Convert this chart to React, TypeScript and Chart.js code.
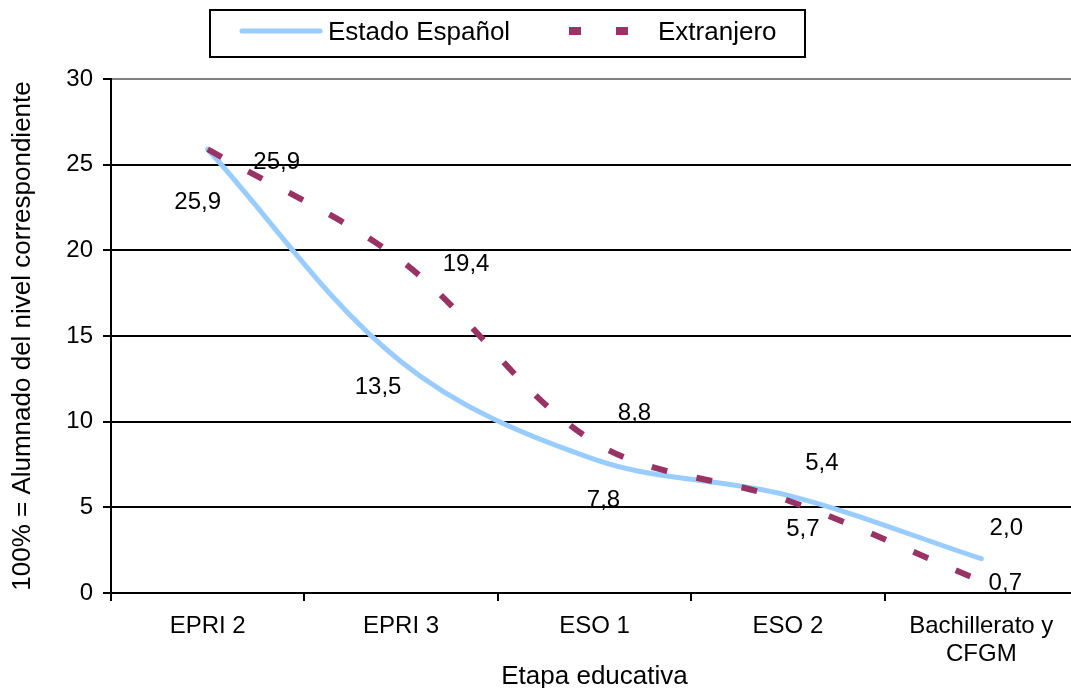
import React, { useEffect, useRef } from "react";
import { Chart, registerables } from "chart.js";

Chart.register(...registerables);

// ---- data ----
const categories: (string | string[])[] = ["EPRI 2", "EPRI 3", "ESO 1", "ESO 2", ["Bachillerato y", "CFGM"]];
const estadoEspanol = [25.9, 13.5, 7.8, 5.7, 2.0];
const extranjero = [25.9, 19.4, 8.8, 5.4, 0.7];
const seriesNames = ["Estado Español", "Extranjero"];
const yMin = 0;
const yMax = 30;
const yStep = 5;
const xTitle = "Etapa educativa";
const yTitle = "100% = Alumnado del nivel correspondiente";

// ---- styles ----
const FONT = "'Liberation Sans', Arial, sans-serif";
const BLUE = "#99CCFF";
const MAGENTA = "#993366";
// label offsets (px) from each point, per series
const labelOffsets: number[][][] = [
  [[-10, 53], [-23, 26], [9, 41], [15, 34], [25, -30]],
  [[69, 13], [65, 4], [40, -29], [34, -37], [24, 2]],
];

const fmt = (v: number) => v.toFixed(1).replace(".", ",");

const dataLabelPlugin = {
  id: "dataLabels",
  afterDatasetsDraw(chart: any) {
    const ctx = chart.ctx;
    ctx.save();
    ctx.font = `24px ${FONT}`;
    ctx.fillStyle = "#000";
    ctx.textAlign = "center";
    ctx.textBaseline = "middle";
    chart.data.datasets.forEach((ds: any, di: number) => {
      const meta = chart.getDatasetMeta(di);
      meta.data.forEach((pt: any, i: number) => {
        const off = labelOffsets[di][i];
        ctx.fillText(fmt(ds.data[i]), pt.x + off[0], pt.y + off[1]);
      });
    });
    ctx.restore();
  },
};

const legendPlugin = {
  id: "boxLegend",
  afterDraw(chart: any) {
    const ctx = chart.ctx;
    ctx.save();
    // box
    ctx.fillStyle = "#fff";
    ctx.fillRect(210, 10, 595, 47);
    ctx.strokeStyle = "#000";
    ctx.lineWidth = 2;
    ctx.strokeRect(210, 10, 595, 47);
    // series 1 sample
    ctx.strokeStyle = BLUE;
    ctx.lineWidth = 5;
    ctx.lineCap = "round";
    ctx.beginPath();
    ctx.moveTo(242, 31);
    ctx.lineTo(320, 31);
    ctx.stroke();
    // series 2 sample
    ctx.fillStyle = MAGENTA;
    ctx.fillRect(569, 27, 12, 8);
    ctx.fillRect(616, 27, 12, 8);
    // texts
    ctx.fillStyle = "#000";
    ctx.font = `26px ${FONT}`;
    ctx.textAlign = "left";
    ctx.textBaseline = "middle";
    ctx.fillText(seriesNames[0], 328, 33);
    ctx.fillText(seriesNames[1], 658, 33);
    ctx.restore();
  },
};

export default function App() {
  const ref = useRef<HTMLCanvasElement | null>(null);

  useEffect(() => {
    if (!ref.current) return;
    const chart = new Chart(ref.current, {
      type: "line",
      data: {
        labels: categories as any,
        datasets: [
          {
            label: seriesNames[0],
            data: estadoEspanol,
            borderColor: BLUE,
            borderWidth: 5,
            pointRadius: 0,
            tension: 0.35,
            fill: false,
            order: 2,
            borderCapStyle: "round",
          },
          {
            label: seriesNames[1],
            data: extranjero,
            borderColor: MAGENTA,
            borderWidth: 6,
            borderDash: [16, 30],
            pointRadius: 0,
            tension: 0.35,
            fill: false,
            order: 1,
          },
        ],
      },
      options: {
        responsive: false,
        animation: false,
        devicePixelRatio: 1,
        layout: { padding: { top: 79, left: 0, right: 0, bottom: 0 } },
        plugins: {
          legend: { display: false },
          tooltip: { enabled: false },
        },
        scales: {
          x: {
            offset: true,
            grid: {
              offset: true,
              drawOnChartArea: false,
              drawTicks: true,
              tickLength: 8,
              color: "#000",
              tickColor: "#000",
              lineWidth: 2,
            },
            border: { display: true, color: "#000", width: 2 },
            ticks: {
              color: "#000",
              padding: 12,
              maxRotation: 0,
              autoSkip: false,
              font: { family: FONT, size: 24, lineHeight: 1.15 },
            },
            title: {
              display: true,
              text: xTitle,
              color: "#000",
              font: { family: FONT, size: 26, lineHeight: 1.2 },
              padding: { top: 0, bottom: 8 },
            },
            afterFit: (scale: any) => {
              scale.height = 107;
            },
          },
          y: {
            min: yMin,
            max: yMax,
            ticks: {
              stepSize: yStep,
              color: "#000",
              padding: 10,
              font: { family: FONT, size: 24 },
            },
            grid: {
              color: (c: any) => (c.tick && c.tick.value === yMax ? "#808080" : "#000"),
              tickColor: "#000",
              lineWidth: 2,
              tickLength: 8,
            },
            border: { display: true, color: "#000", width: 2 },
            title: {
              display: true,
              text: yTitle,
              color: "#000",
              font: { family: FONT, size: 26, lineHeight: 1.2 },
              padding: { top: 7, bottom: 0 },
            },
            afterFit: (scale: any) => {
              scale.width = 111;
            },
          },
        },
      },
      plugins: [dataLabelPlugin, legendPlugin],
    });
    return () => chart.destroy();
  }, []);

  return (
    <div style={{ position: "fixed", left: 0, top: 0, width: 1078, height: 700, background: "#fff" }}>
      <canvas ref={ref} width={1078} height={700} style={{ display: "block" }} />
    </div>
  );
}
